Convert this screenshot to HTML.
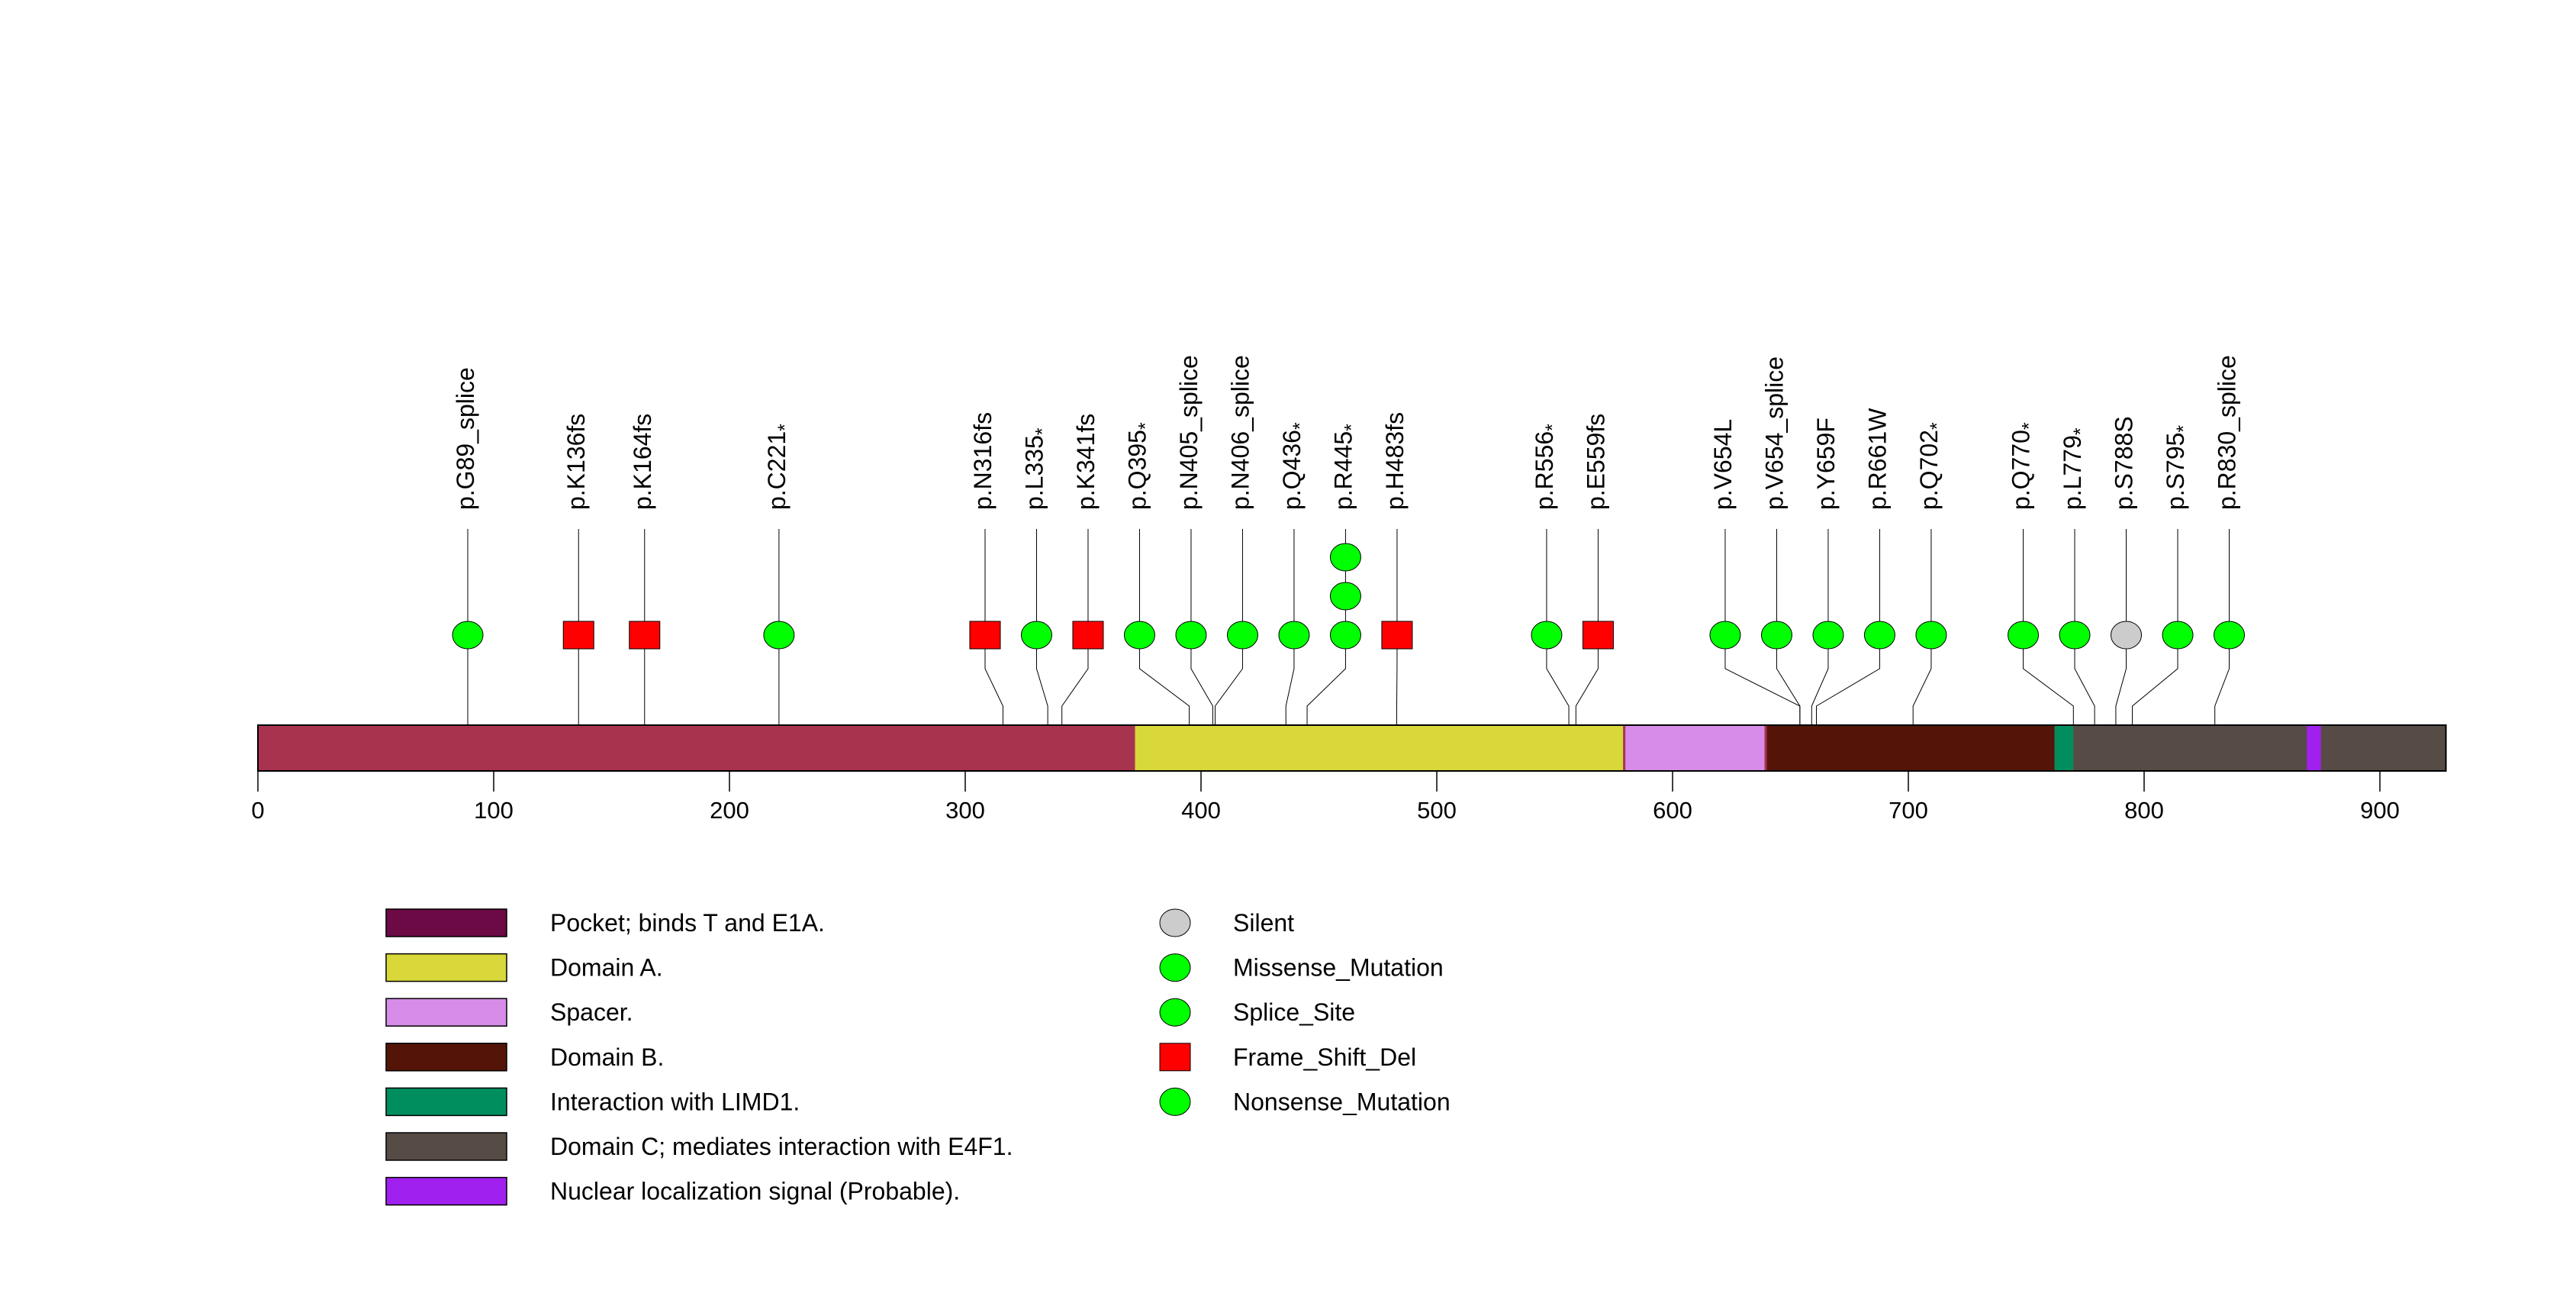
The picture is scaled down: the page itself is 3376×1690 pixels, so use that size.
<!DOCTYPE html>
<html><head><meta charset="utf-8"><style>
html,body{margin:0;padding:0;background:#fff;}
svg{display:block;font-family:"Liberation Sans",sans-serif;}
</style></head><body>
<svg id="chart" width="3376" height="1690" viewBox="0 0 3376 1690" xmlns="http://www.w3.org/2000/svg">
<rect width="3376" height="1690" fill="#fff"/>
<g id="stems"></g><g id="bar"></g><g id="axis"></g><g id="marks"></g><g id="labels"></g><g id="legend"></g>
</svg>
<script>
const protLen = 928;
const domainStarts = [1, 372, 580, 640, 762, 770, 869];
const domainEnds   = [372, 579, 639, 762, 770, 928, 875];
const domainNames = ["Pocket; binds T and E1A.","Domain A.","Spacer.","Domain B.","Interaction with LIMD1.","Domain C; mediates interaction with E4F1.","Nuclear localization signal (Probable)."];
const domainBarColors = ["#A8334F","#D8D83A","#D68CE8","#541508","#008E5E","#564B45","#A020F0"];
const domainLegendColors = ["#6B0A45","#D8D83A","#D68CE8","#541508","#008E5E","#564B45","#A020F0"];
const mutPos = [89,136,164,221,316,335,341,395,405,406,436,445,483,556,559,654,654,659,661,702,770,779,788,795,830];
const mutLabels = ["p.G89_splice","p.K136fs","p.K164fs","p.C221*","p.N316fs","p.L335*","p.K341fs","p.Q395*","p.N405_splice","p.N406_splice","p.Q436*","p.R445*","p.H483fs","p.R556*","p.E559fs","p.V654L","p.V654_splice","p.Y659F","p.R661W","p.Q702*","p.Q770*","p.L779*","p.S788S","p.S795*","p.R830_splice"];
const mutTypes = ["Splice_Site","Frame_Shift_Del","Frame_Shift_Del","Nonsense_Mutation","Frame_Shift_Del","Nonsense_Mutation","Frame_Shift_Del","Nonsense_Mutation","Splice_Site","Splice_Site","Nonsense_Mutation","Nonsense_Mutation","Frame_Shift_Del","Nonsense_Mutation","Frame_Shift_Del","Missense_Mutation","Splice_Site","Missense_Mutation","Missense_Mutation","Nonsense_Mutation","Nonsense_Mutation","Nonsense_Mutation","Silent","Nonsense_Mutation","Splice_Site"];
const mutCounts = [1,1,1,1,1,1,1,1,1,1,1,3,1,1,1,1,1,1,1,1,1,1,1,1,1];
const axisTicks = [0,100,200,300,400,500,600,700,800,900];
const legendTypes = ["Silent","Missense_Mutation","Splice_Site","Frame_Shift_Del","Nonsense_Mutation"];

const NS="http://www.w3.org/2000/svg";
const X0=338, K=3.09;
const xs = v => X0 + K*v;
const BAR_T=950, BAR_B=1010, MY=832, STEP=51, STEM_T=693, ELB=876, BEND=925;
function mk(tag, attrs, parent){const e=document.createElementNS(NS,tag);for(const k in attrs)e.setAttribute(k,attrs[k]);parent.appendChild(e);return e;}
const gStem=document.getElementById('stems'),gBar=document.getElementById('bar'),gAx=document.getElementById('axis'),gM=document.getElementById('marks'),gL=document.getElementById('labels'),gLeg=document.getElementById('legend');
function colorOf(t){return t==="Frame_Shift_Del"?"#FF0000":(t==="Silent"?"#CCCCCC":"#00FF00");}

let r=mk('rect',{x:xs(0),y:BAR_T,width:xs(protLen)-xs(0),height:BAR_B-BAR_T,fill:domainBarColors[0],stroke:'#000','stroke-width':2},gBar);


domainStarts.forEach((s,i)=>{
  const d=mk('rect',{x:xs(s),y:BAR_T,width:xs(domainEnds[i])-xs(s),height:BAR_B-BAR_T,fill:domainBarColors[i],stroke:'none'},gBar);
  
  
});
mk('rect',{x:xs(0),y:BAR_T,width:xs(protLen)-xs(0),height:BAR_B-BAR_T,fill:'none',stroke:'#000','stroke-width':2},gBar);

axisTicks.forEach(t=>{
  mk('line',{x1:xs(t),x2:xs(t),y1:BAR_B,y2:1037,stroke:'#000','stroke-width':1.5},gAx);
  const tx=mk('text',{x:xs(t),y:1072,'font-size':31,'text-anchor':'middle',fill:'#000'},gAx);
  tx.textContent=t;
  
  
});

const MIN=67.5;
let lx=mutPos.map(xs);
for(let it=0;it<500;it++){
  let moved=false;
  for(let i=1;i<lx.length;i++){
    const gap=lx[i]-lx[i-1];
    if(gap<MIN-0.01){const d=(MIN-gap)/2;lx[i-1]-=d;lx[i]+=d;moved=true;}
  }
  if(!moved)break;
}

mutPos.forEach((p,i)=>{
  const px=xs(p), L=lx[i];
  const pl=mk('polyline',{points:`${L},${STEM_T} ${L},${ELB} ${px},${BEND} ${px},${BAR_B}`,fill:'none',stroke:'#000','stroke-width':1},gStem);
  
  
  for(let c=0;c<mutCounts[i];c++){
    const cy=MY-c*STEP, col=colorOf(mutTypes[i]);
    let m;
    if(mutTypes[i]==="Frame_Shift_Del") m=mk('rect',{x:L-20,y:cy-18,width:40,height:36,fill:col,stroke:'#000','stroke-width':1},gM);
    else m=mk('ellipse',{cx:L,cy:cy,rx:20,ry:18,fill:col,stroke:'#000','stroke-width':1},gM);
    
    
  }
  const t=mk('text',{transform:`translate(${L+8},668) rotate(-90)`,'font-size':32,fill:'#000'},gL);
  
  
  const lab=mutLabels[i];
  if(lab.endsWith('*')){
    t.appendChild(document.createTextNode(lab.slice(0,-1)));
    const ts=mk('tspan',{dy:8,'font-size':25},t); ts.textContent='*';
  } else t.textContent=lab;
});

domainNames.forEach((n,i)=>{
  const y=1191+i*58.6;
  const b=mk('rect',{x:506,y:y,width:158,height:36,fill:domainLegendColors[i],stroke:'#000','stroke-width':1.5},gLeg);
  
  
  const t=mk('text',{x:721,y:y+29,'font-size':32,fill:'#000'},gLeg);
  t.textContent=n;
  
  
});
legendTypes.forEach((n,i)=>{
  const cy=1209+i*58.6;
  let s;
  if(n==="Frame_Shift_Del") s=mk('rect',{x:1520,y:cy-18,width:40,height:36,fill:colorOf(n),stroke:'#000','stroke-width':1},gLeg);
  else s=mk('ellipse',{cx:1540,cy:cy,rx:20,ry:18,fill:colorOf(n),stroke:'#000','stroke-width':1},gLeg);
  
  
  const t=mk('text',{x:1616,y:cy+11,'font-size':32,fill:'#000'},gLeg);
  t.textContent=n;
  
  
});
</script>
</body></html>
